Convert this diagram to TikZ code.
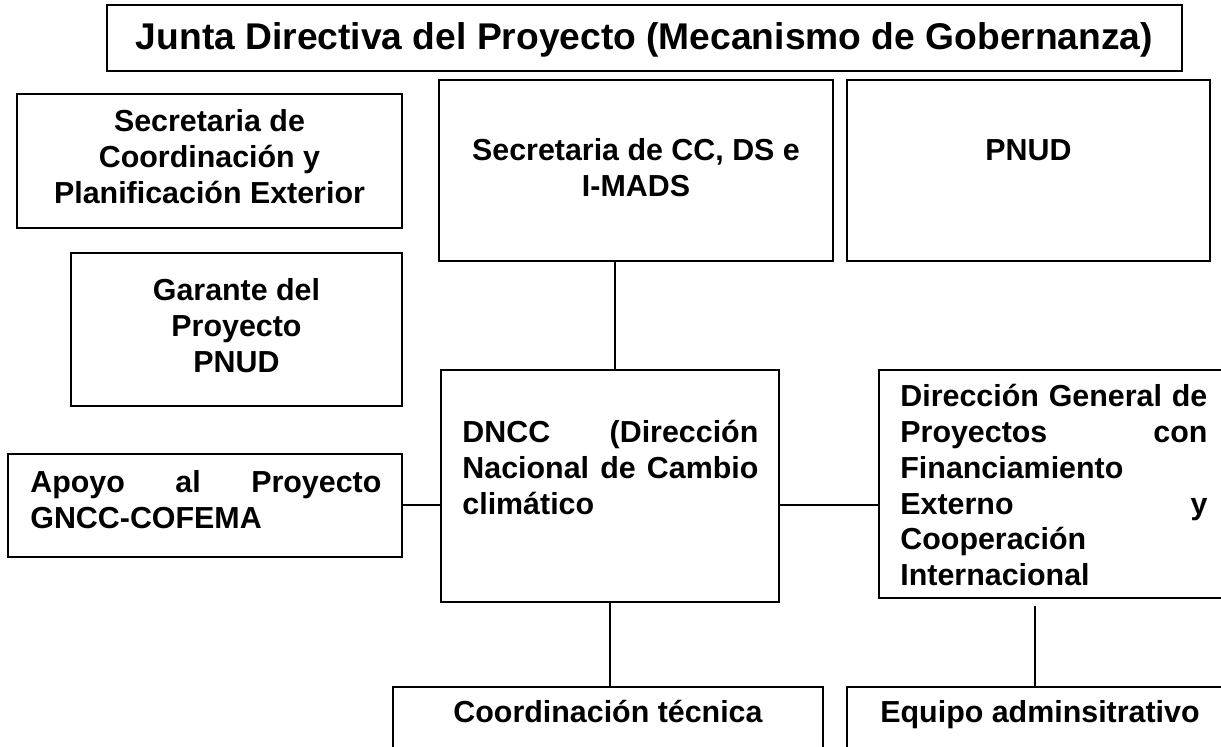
\documentclass[tikz,border=0pt]{standalone}
\usepackage{fontspec}
\setmainfont{Liberation Sans}
\usetikzlibrary{fit}
\hyphenpenalty=10000
\exhyphenpenalty=10000

\begin{document}
\begin{tikzpicture}[x=0.5pt, y=-0.5pt,
    caja/.style={draw, line width=1pt, inner sep=0pt},
    texto/.style={inner sep=0pt, align=center, font=\bfseries\fontsize{15.2}{17.9}\selectfont},
    linea/.style={line width=1pt}]
    \clip (0,0) rectangle (1221,747);

    % junta directiva
    \node [caja, fit={(107,5) (1182,71)}] (junta) {};
    \node [texto, anchor=base, font=\bfseries\fontsize{18.6}{22}\selectfont] (juntatxt) at (644.5,50)
        {Junta Directiva del Proyecto (Mecanismo de Gobernanza)};

    % fila de arriba
    \node [caja, fit={(17,94) (402,228)}] (seccoord) {};
    \node [texto, anchor=north] (seccoordtxt) at (209.5,109) {Secretaria de\\Coordinación y\\Planificación Exterior};
    \node [caja, fit={(439,80) (833,261)}] (secds) {};
    \node [texto, anchor=north] (secdstxt) at (636,138) {Secretaria de CC, DS e\\I-MADS};
    \node [caja, fit={(847,80) (1210,261)}] (pnud) {};
    \node [texto, anchor=base] (pnudtxt) at (1028.5,161) {PNUD};
    \node [caja, fit={(71,253) (402,406)}] (garante) {};
    \node [texto, anchor=north] (garantetxt) at (236.5,278) {Garante del\\Proyecto\\PNUD};

    % fila del medio
    \node [caja, fit={(8,454) (402,557)}] (apoyo) {};
    \node [texto, anchor=north west, text width=175.5pt, align=justify] (apoyotxt) at (30,470)
        {Apoyo al Proyecto\linebreak GNCC-COFEMA};
    \node [caja, fit={(441,370) (779,602)}] (dncc) {};
    \node [texto, anchor=north west, text width=148pt, align=justify] (dncctxt) at (462,420)
        {DNCC (Dirección\linebreak Nacional de Cambio\linebreak climático};
    \node [caja, fit={(879,370) (1232,598)}] (dg) {};
    \node [texto, anchor=north west, text width=153.5pt, align=justify] (dgtxt) at (900,384)
        {Dirección General de\linebreak Proyectos con\linebreak Financiamiento\newline
         Externo y\linebreak Cooperación\newline Internacional};

    % fila de abajo
    \node [caja, fit={(393,687) (823,790)}] (coord) {};
    \node [texto, anchor=base] (coordtxt) at (608,723) {Coordinación técnica};
    \node [caja, fit={(847,687) (1233,790)}] (equipo) {};
    \node [texto, anchor=base] (equipotxt) at (1040,723) {Equipo adminsitrativo};

    % lineas
    \draw [linea] ([xshift=2.5pt]dncc.north) -- ([xshift=2.5pt]dncc.north |- secds.south);
    \draw [linea] (dncc.south) -- (dncc.south |- coord.north);
    \draw [linea] (apoyo.east) -- (apoyo.east -| dncc.west);
    \draw [linea] (apoyo.east -| dncc.east) -- (apoyo.east -| dg.west);
    \coordinate (dgpie) at (1035,606);
    \draw [linea] (dgpie) -- (dgpie |- equipo.north);
\end{tikzpicture}
\end{document}
